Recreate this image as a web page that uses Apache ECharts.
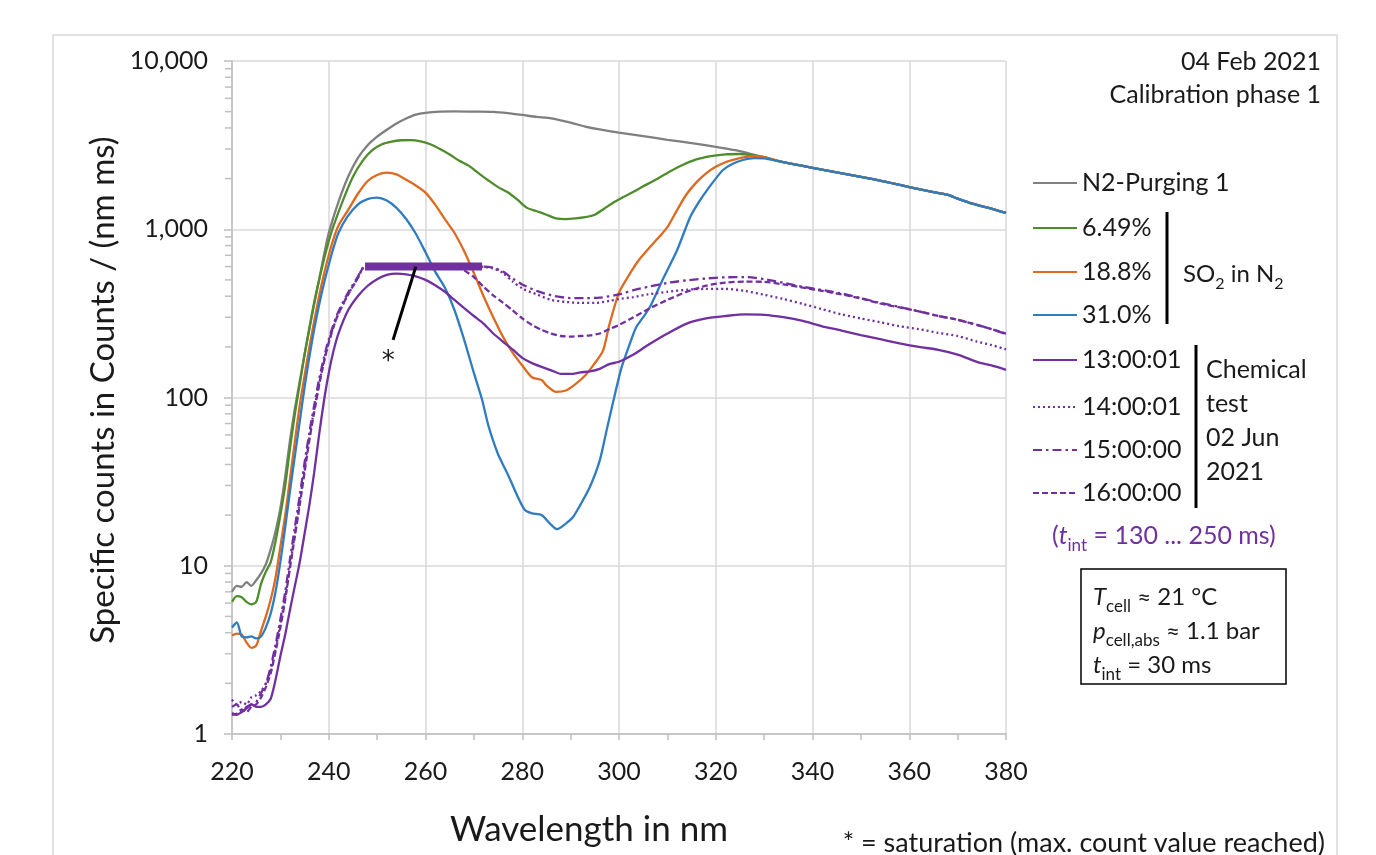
<!DOCTYPE html>
<html>
<head>
<meta charset="utf-8">
<title>SO2 calibration spectra</title>
<script src="https://cdn.jsdelivr.net/npm/echarts@6/dist/echarts.min.js"></script>
<style>
  html, body { margin: 0; padding: 0; background: #ffffff; }
  #chart { width: 1376px; height: 855px; }
</style>
</head>
<body>
<div id="chart"></div>
<script>
// ---- spectra: [wavelength in nm, specific counts in counts/(nm ms)] ----
const n2Purging = [
  [220,7.0],[221,7.6],[222,7.5],[223,8.0],[224,7.6],[225,8.2],[226,9.0],[227,10.2],[228,12.5],[229,16],[230,22],
  [231,34],[232,56],[233,86],[234,125],[235,180],[236,255],[237,360],[238,500],[239,700],[240,950],
  [242,1450],[244,2050],[246,2650],[248,3150],[250,3550],[252,3900],[254,4250],[256,4550],[258,4800],
  [260,4920],[263,5000],[266,5020],[270,5000],[274,4980],[277,4900],[280,4780],[283,4650],[286,4560],
  [290,4300],[293,4080],[296,3920],[300,3750],[305,3580],[310,3400],[315,3250],[320,3090],[324,2950],
  [327,2820],[330,2680],[333,2540],[336,2440],[340,2320],[345,2180],[350,2050],[355,1920],[360,1780],
  [365,1660],[368,1600],[370,1520],[373,1420],[376,1350],[380,1250]
];
const so2_649 = [
  [220,6.1],[221,6.6],[222,6.5],[223,6.1],[224,5.9],[225,6.1],[226,7.8],[227,9.2],[228,10.5],[229,14],
  [230,20],[231,30],[232,50],[233,80],[234,120],[235,180],[236,260],[237,370],[238,500],[239,660],
  [240,850],[241,1050],[243,1500],[245,2050],[247,2550],[249,2950],[251,3200],[253,3320],[255,3380],
  [257,3390],[259,3330],[261,3200],[263,3000],[265,2780],[267,2550],[269,2380],[271,2150],[273,1950],
  [275,1780],[277,1660],[279,1500],[281,1340],[283,1280],[285,1220],[287,1160],[289,1150],[291,1160],
  [293,1180],[295,1220],[297,1330],[299,1450],[301,1560],[303,1670],[305,1800],[307,1930],[310,2160],
  [313,2400],[316,2600],[319,2720],[322,2790],[325,2800],[328,2740],[330,2680],[333,2540],[336,2440],
  [340,2320],[345,2180],[350,2050],[355,1920],[360,1780],[365,1660],[368,1600],[370,1520],[373,1420],
  [376,1350],[380,1250]
];
const so2_188 = [
  [220,3.85],[221,3.95],[222,3.9],[223,3.5],[224,3.25],[225,3.35],[226,4.1],[227,5.0],[228,6.3],[229,8.5],
  [230,13],[231,20],[232,33],[233,55],[234,90],[235,135],[236,200],[237,285],[238,400],[239,540],
  [240,700],[241,880],[242,1050],[244,1300],[246,1620],[248,1930],[250,2100],[252,2170],[254,2120],
  [256,1970],[258,1820],[260,1650],[262,1400],[264,1150],[266,950],[268,740],[270,550],[272,400],
  [274,300],[276,230],[278,185],[280,155],[282,132],[284,127],[285,118],[287,108],[289,110],[291,120],
  [293,135],[295,160],[296.7,190],[298,270],[300,420],[302,530],[304,650],[306,760],[308,880],[310,1030],
  [312,1300],[314,1620],[316,1900],[318,2150],[320,2350],[322,2500],[324,2600],[326,2680],[328,2720],
  [330,2680],[333,2540],[336,2440],[340,2320],[345,2180],[350,2050],[355,1920],[360,1780],[365,1660],
  [368,1600],[370,1520],[373,1420],[376,1350],[380,1250]
];
const so2_310 = [
  [220,4.3],[221,4.6],[222,3.8],[223,3.75],[224,3.8],[225,3.7],[226,3.8],[227,4.3],[228,5.2],[229,7.0],
  [230,10.5],[231,17],[232,28],[233,45],[234,72],[235,115],[236,175],[237,255],[238,355],[239,475],
  [240,615],[241,780],[242,950],[243.8,1180],[246,1400],[248,1510],[250,1540],[252,1480],[254,1340],
  [256,1150],[258,940],[260,730],[262,560],[264,450],[266,330],[268,220],[270,140],[271.7,97],[273,68],
  [275,46],[277,35],[279,26],[280.5,21.5],[282,20.5],[284,20],[286,17.5],[287.2,16.5],[289,17.8],
  [290.5,19.5],[292,23],[294,29.5],[296,42],[297.5,65],[299,100],[300.5,150],[302,200],[303.5,260],
  [305,300],[306.5,350],[309,500],[312,750],[314.7,1180],[316.5,1450],[318.2,1710],[320,2000],
  [321.5,2250],[323.5,2450],[325.6,2580],[328,2650],[330,2640],[333,2540],[336,2440],[340,2320],
  [345,2180],[350,2050],[355,1920],[360,1780],[365,1660],[368,1600],[370,1520],[373,1420],[376,1350],
  [380,1250]
];
const test1300 = [
  [220,1.33],[221,1.3],[222,1.35],[223,1.42],[224,1.5],[225,1.45],[226,1.45],[227,1.5],[228,1.62],
  [229,2.1],[230,2.9],[231,3.9],[232,5.5],[233,7.6],[234,10.5],[235,15.5],[236,23],[237,36],[238,60],
  [239,95],[240,140],[241,190],[242,240],[244,330],[246,400],[248,460],[250,505],[252,535],[254,545],
  [256,540],[258,525],[260,500],[262,465],[264,425],[266,380],[268,340],[270,305],[272,275],[274,240],
  [276,215],[278,193],[280,172],[282,160],[284,152],[286,145],[288,138],[290,138],[292,141],[294,143],
  [296,148],[298,158],[300,163],[303,180],[306,205],[310,240],[314,275],[318,295],[322,305],[326,312],
  [330,310],[334,300],[338,285],[342,265],[346,250],[350,235],[354,222],[358,210],[362,200],[366,192],
  [370,180],[374,163],[377,155],[380,146]
];
const test1400 = [
  [220,1.6],[221,1.5],[222,1.55],[223,1.5],[224,1.65],[225,1.7],[226,1.8],[227,2.0],[228,2.4],[229,3.2],
  [230,4.5],[231,6.5],[232,10],[233,15.5],[234,24],[235,38],[236,58],[237,85],[238,120],[239,165],
  [240,215],[241.7,300],[243.8,400],[245.8,500],[247.5,600],[250,600],[255,600],[260,600],[265,600],
  [270,600],[272,598],[274,585],[276,550],[278,490],[280,445],[283,410],[286,380],[289,370],[292,365],
  [295,365],[298,375],[300,385],[303,395],[306,410],[310,425],[314,437],[318,442],[322,442],[326,430],
  [330,408],[334,385],[338,360],[342,335],[346,312],[350,295],[354,280],[358,265],[362,255],[366,242],
  [370,232],[374,215],[377,205],[380,193]
];
const test1500 = [
  [220,1.45],[221,1.5],[222,1.35],[223,1.45],[224,1.5],[225,1.55],[226,1.75],[227,2.0],[228,2.5],
  [229,3.4],[230,4.8],[231,7],[232,11],[233,17],[234,26],[235,41],[236,62],[237,90],[238,128],[239,172],
  [240,222],[241.7,310],[243.8,410],[245.8,510],[247.5,600],[250,600],[255,600],[260,600],[265,600],
  [270,600],[272,600],[274,590],[276,560],[278,510],[280,470],[283,430],[286,405],[290,390],[293,390],
  [296,392],[300,410],[303,435],[306,455],[310,480],[314,497],[318,510],[322,518],[326,520],[330,505],
  [334,480],[338,455],[342,435],[346,415],[350,390],[354,365],[358,345],[362,325],[366,305],[370,290],
  [374,270],[377,255],[380,238]
];
const test1600 = [
  [220,1.3],[221,1.32],[222,1.4],[223,1.35],[224,1.45],[225,1.5],[226,1.65],[227,1.9],[228,2.3],
  [229,3.1],[230,4.3],[231,6.3],[232,9.8],[233,15],[234,23],[235,36],[236,56],[237,82],[238,118],
  [239,162],[240,212],[241.7,300],[243.8,400],[245.8,500],[247.5,600],[250,600],[255,600],[260,600],
  [265,600],[267,590],[268,570],[270,520],[272,455],[274,405],[276,366],[278,330],[280,295],[282,270],
  [284,252],[286,240],[288,232],[290,230],[292,232],[294,234],[296,240],[298,255],[300,270],[303,300],
  [306,335],[310,380],[314,425],[318,462],[322,482],[326,488],[330,487],[334,470],[338,450],[342,430],
  [346,410],[350,388],[354,362],[358,343],[362,325],[366,305],[370,290],[374,270],[377,255],[380,240]
];
// saturation plateau (max. count value reached) and its pointer
const saturation = [[247.5,600],[271.7,600]];
const saturationPointer = [[258.0,600],[253.3,220]];
const saturationStar = [252.3,172];

// ---- texts ----
const seriesNames = ['N2-Purging 1','6.49%','18.8%','31.0%','13:00:01','14:00:01','15:00:00','16:00:00'];
const yTickValues = [1,10,100,1000,10000];
const xTickLabels = [220,240,260,280,300,320,340,360,380];
const xAxisTitle = 'Wavelength in nm';
const yAxisTitle = 'Specific counts in Counts / (nm ms)';
const dateLines = ['04 Feb 2021','Calibration phase 1'];
const chemicalLines = ['Chemical','test','02 Jun','2021'];

const FONT = 'Lato, "Open Sans", sans-serif';
const C = {
  gray: '#7f7f7f', green: '#4e8c2c', orange: '#dd6a1e', blue: '#2f7cc0', purple: '#7030a0',
  grid: '#d9d9d9', axis: '#bfbfbf', text: '#1a1a1a'
};

const styles = [
  { color: C.gray, type: 'solid' },
  { color: C.green, type: 'solid' },
  { color: C.orange, type: 'solid' },
  { color: C.blue, type: 'solid' },
  { color: C.purple, type: 'solid' },
  { color: C.purple, type: [2, 3] },
  { color: C.purple, type: [9, 4, 2.5, 4] },
  { color: C.purple, type: [6, 3] }
];
const seriesData = [n2Purging, so2_649, so2_188, so2_310, test1300, test1400, test1500, test1600];

const chart = echarts.init(document.getElementById('chart'), null, { renderer: 'canvas' });

const lineSeries = seriesData.map((d, i) => ({
  name: seriesNames[i],
  type: 'line',
  data: d,
  showSymbol: false,
  smooth: 0.25,
  lineStyle: { width: 2.3, color: styles[i].color, type: styles[i].type },
  itemStyle: { color: styles[i].color },
  z: 2 + i,
  silent: true
}));

lineSeries.push({
  name: 'saturation',
  type: 'line',
  data: saturation,
  showSymbol: false,
  lineStyle: { width: 8, color: C.purple, cap: 'butt' },
  z: 20, silent: true
});
lineSeries.push({
  name: 'pointer',
  type: 'line',
  data: saturationPointer,
  showSymbol: false,
  lineStyle: { width: 3, color: '#000000' },
  z: 21, silent: true
});

const option = {
  animation: false,
  backgroundColor: '#ffffff',
  textStyle: { fontFamily: FONT },
  grid: { left: 232, right: 370, top: 61, bottom: 121, containLabel: false, outerBoundsMode: 'none' },
  xAxis: {
    type: 'value', min: 220, max: 380, interval: 20,
    axisLine: { show: true, lineStyle: { color: C.axis, width: 1.5 } },
    axisTick: { show: true, length: 6, lineStyle: { color: C.axis, width: 1.5 } },
    minorTick: { show: true, splitNumber: 2, length: 6, lineStyle: { color: C.axis, width: 1.5 } },
    axisLabel: { fontSize: 25, color: C.text, margin: 25, fontFamily: FONT,
      formatter: v => (xTickLabels.indexOf(v) >= 0 ? String(v) : '') },
    splitLine: { show: true, lineStyle: { color: C.grid, width: 1.5 } }
  },
  yAxis: {
    type: 'log', logBase: 10, min: 1, max: 10000,
    axisLine: { show: true, lineStyle: { color: C.axis, width: 1.5 } },
    axisTick: { show: true, length: 8, lineStyle: { color: C.axis, width: 1.5 } },
    axisLabel: { fontSize: 25, color: C.text, margin: 24, fontFamily: FONT,
      formatter: v => (yTickValues.indexOf(Math.round(v)) >= 0 ? Math.round(v).toLocaleString('en-US') : '') },
    splitLine: { show: true, lineStyle: { color: C.grid, width: 1.5 } }
  },
  series: lineSeries
};
chart.setOption(option);

// ---- overlay graphics: axis titles, log minor ticks, legend, notes ----
function buildGraphics() {
  const g = [];
  // chart frame
  g.push({ type: 'rect', shape: { x: 53, y: 35, width: 1284, height: 900 },
    style: { fill: 'none', stroke: '#d9d9d9', lineWidth: 1.5 }, z: -10, silent: true });

  // axis titles
  g.push({ type: 'text', x: 589, y: 830,
    style: { text: xAxisTitle, fontSize: 35, fontFamily: FONT, fill: C.text, align: 'center', verticalAlign: 'middle' } });
  g.push({ type: 'text', x: 103, y: 390, rotation: Math.PI / 2,
    style: { text: yAxisTitle, fontSize: 33, fontFamily: FONT, fill: C.text, align: 'center', verticalAlign: 'middle' } });

  // minor ticks of the log axis at 2..9 within each decade
  const x0 = chart.convertToPixel({ xAxisIndex: 0 }, 220);
  for (let d = 0; d < 4; d++) {
    for (let m = 2; m <= 9; m++) {
      const y = chart.convertToPixel({ yAxisIndex: 0 }, m * Math.pow(10, d));
      g.push({ type: 'line', shape: { x1: x0 - 7, y1: y, x2: x0, y2: y },
        style: { stroke: C.axis, lineWidth: 1.5 }, silent: true });
    }
  }

  // saturation marker star
  const sp = chart.convertToPixel({ xAxisIndex: 0, yAxisIndex: 0 }, saturationStar);
  g.push({ type: 'text', x: sp[0], y: sp[1] + 4,
    style: { text: '*', fontSize: 26, fontFamily: '"DejaVu Sans", sans-serif', fill: C.text, align: 'center', verticalAlign: 'middle' }, z: 30 });

  // date / phase at top right
  dateLines.forEach((t, i) => {
    g.push({ type: 'text', x: 1321, y: 62 + i * 33,
      style: { text: t, fontSize: 25, fontFamily: FONT, fill: C.text, align: 'right', verticalAlign: 'middle' } });
  });

  // legend rows
  const rowsY = [183, 228, 272, 315, 360, 407, 450, 493];
  seriesNames.forEach((name, i) => {
    const y = rowsY[i];
    const lt = styles[i].type;
    const dash = Array.isArray(lt) ? lt : null;
    g.push({ type: 'line', shape: { x1: 1033, y1: y, x2: 1077, y2: y },
      style: { stroke: styles[i].color, lineWidth: 2, lineDash: dash } });
    g.push({ type: 'text', x: 1082, y: y,
      style: { text: name, fontSize: 25, fontFamily: FONT, fill: C.text, align: 'left', verticalAlign: 'middle' } });
  });

  // bracket: SO2 in N2
  g.push({ type: 'line', shape: { x1: 1167, y1: 212, x2: 1167, y2: 324 }, style: { stroke: '#000', lineWidth: 3 } });
  g.push({ type: 'text', x: 1183, y: 271,
    style: {
      text: '{m|SO}{s|2}{m| in N}{s|2}', align: 'left', verticalAlign: 'middle',
      rich: {
        m: { fontSize: 24, fontFamily: FONT, fill: C.text, lineHeight: 30, verticalAlign: 'bottom' },
        s: { fontSize: 16, fontFamily: FONT, fill: C.text, lineHeight: 30, verticalAlign: 'bottom', padding: [0, 0, -6, 0] }
      }
    } });

  // bracket: chemical test
  g.push({ type: 'line', shape: { x1: 1196, y1: 345, x2: 1196, y2: 508 }, style: { stroke: '#000', lineWidth: 3 } });
  chemicalLines.forEach((t, i) => {
    g.push({ type: 'text', x: 1206, y: 370 + i * 34,
      style: { text: t, fontSize: 25, fontFamily: FONT, fill: C.text, align: 'left', verticalAlign: 'middle' } });
  });

  // integration time of the chemical test
  g.push({ type: 'text', x: 1052, y: 533,
    style: {
      text: '{m|(}{i|t}{s|int}{m| = 130 ... 250 ms)}', align: 'left', verticalAlign: 'middle',
      rich: {
        m: { fontSize: 25, fontFamily: FONT, fill: C.purple, lineHeight: 30, verticalAlign: 'bottom' },
        i: { fontSize: 25, fontFamily: FONT, fontStyle: 'italic', fill: C.purple, lineHeight: 30, verticalAlign: 'bottom' },
        s: { fontSize: 17, fontFamily: FONT, fill: C.purple, lineHeight: 30, verticalAlign: 'bottom', padding: [0, 0, -6, 0] }
      }
    } });

  // measurement conditions box
  g.push({ type: 'rect', shape: { x: 1081, y: 569, width: 205, height: 115 },
    style: { fill: '#ffffff', stroke: '#000', lineWidth: 1.5 } });
  const boxRich = {
    m: { fontSize: 24, fontFamily: FONT, fill: C.text, lineHeight: 28, verticalAlign: 'bottom' },
    i: { fontSize: 24, fontFamily: FONT, fontStyle: 'italic', fill: C.text, lineHeight: 28, verticalAlign: 'bottom' },
    s: { fontSize: 17, fontFamily: FONT, fill: C.text, lineHeight: 28, verticalAlign: 'bottom', padding: [0, 0, -6, 0] }
  };
  const boxLines = [
    '{i|T}{s|cell}{m| ≈ 21 °C}',
    '{i|p}{s|cell,abs}{m| ≈ 1.1 bar}',
    '{i|t}{s|int}{m| = 30 ms}'
  ];
  boxLines.forEach((t, i) => {
    g.push({ type: 'text', x: 1093, y: 595 + i * 34,
      style: { text: t, align: 'left', verticalAlign: 'middle', rich: boxRich } });
  });

  // footnote
  g.push({ type: 'text', x: 1325, y: 843,
    style: { text: '* = saturation (max. count value reached)', fontSize: 27, fontFamily: FONT, fill: C.text,
      align: 'right', verticalAlign: 'middle' } });

  return g;
}
chart.setOption({ graphic: buildGraphics() });
</script>
</body>
</html>
